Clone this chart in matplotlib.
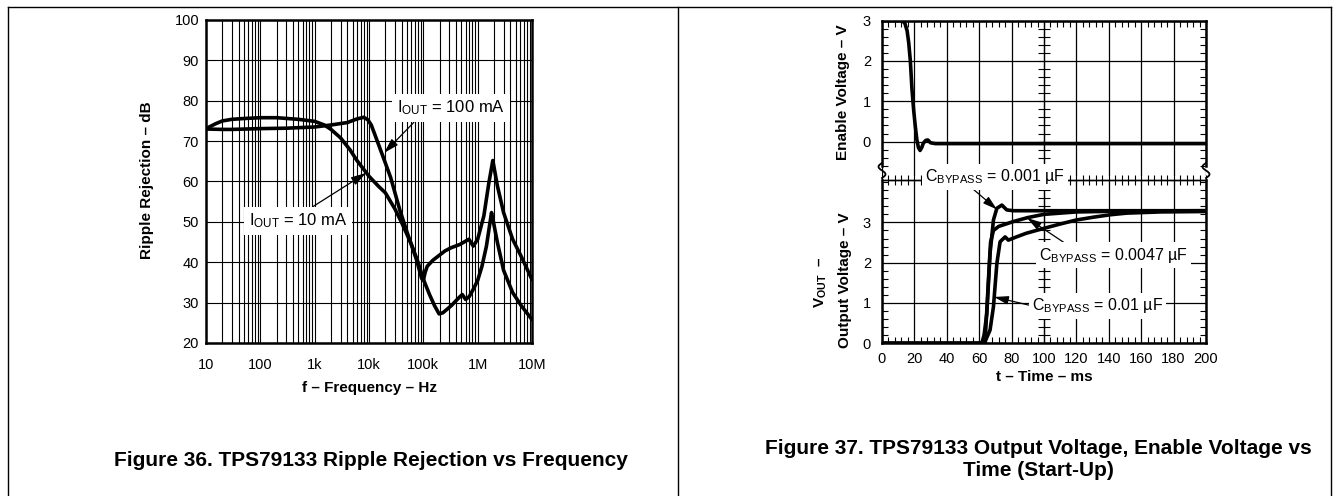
import matplotlib
matplotlib.use('Agg')
import matplotlib.pyplot as plt
from matplotlib.ticker import (LogLocator, MultipleLocator, FixedLocator,
                               NullFormatter, FixedFormatter, NullLocator)
from matplotlib.lines import Line2D
import numpy as np

W, H, DPI = 1338, 496, 100

plt.rcParams['font.family'] = ['Liberation Sans', 'DejaVu Sans']
plt.rcParams['mathtext.fontset'] = 'custom'
plt.rcParams['mathtext.rm'] = 'Liberation Sans'
plt.rcParams['mathtext.it'] = 'Liberation Sans:italic'
plt.rcParams['mathtext.bf'] = 'Liberation Sans:bold'

# ---------------- Figure 36 data: ripple rejection vs frequency ----------------
freq_ticks = [10, 100, 1e3, 1e4, 1e5, 1e6, 1e7]
freq_tick_labels = ['10', '100', '1k', '10k', '100k', '1M', '10M']

freq_10mA = [10, 15, 20, 30, 50, 100, 200, 500, 1000, 1500, 2000, 3000, 4500,
             6000, 8000, 10000, 15000, 20000, 30000, 40000, 60000, 80000,
             100000, 130000, 160000, 195000, 230000, 330000, 450000, 520000,
             600000, 700000, 830000, 1000000, 1200000, 1450000, 1650000,
             1800000, 1950000, 2300000, 3000000, 4400000, 6300000, 10000000]
rr_10mA = [73.1, 74.3, 75.0, 75.4, 75.6, 75.8, 75.8, 75.4, 74.9, 74.0, 72.9,
           70.8, 67.8, 65.2, 63.0, 61.3, 58.8, 57.2, 53.2, 49.8, 44.5, 40.0,
           35.8, 32.0, 29.3, 27.2, 27.5, 29.3, 31.2, 32.0, 30.8, 31.5, 33.3,
           35.5, 39.0, 44.0, 49.0, 52.3, 50.0, 45.0, 38.0, 32.5, 29.3, 25.8]

freq_100mA = [10, 20, 30, 100, 300, 1000, 2000, 4000, 6000, 8000, 9500, 11000,
              13000, 18300, 25000, 37000, 50000, 75000, 93000, 100000, 108000,
              118000, 150000, 187000, 250000, 325000, 470000, 690000, 830000,
              1000000, 1300000, 1600000, 1900000, 2100000, 2300000, 3000000,
              4400000, 6300000, 10000000]
rr_100mA = [73.0, 72.9, 72.9, 73.1, 73.2, 73.5, 74.0, 74.6, 75.5, 75.9, 75.3,
            74.0, 71.4, 66.0, 61.0, 52.9, 47.5, 40.6, 36.0, 35.5, 37.5, 39.0,
            40.5, 41.5, 42.8, 43.6, 44.4, 45.7, 44.0, 45.7, 51.5, 59.5, 65.2,
            62.0, 59.0, 52.3, 45.7, 41.5, 35.7]

# ---------------- Figure 37 data: start-up ----------------
time_ticks = [0, 20, 40, 60, 80, 100, 120, 140, 160, 180, 200]
enable_yticks = [0, 1, 2, 3]
vout_yticks = [0, 1, 2, 3]

t_enable = [0, 12, 14, 15.5, 16.5, 17.5, 18.5, 19.5, 20.5, 21.5, 22.5, 23.5,
            24.5, 25.5, 27, 28.3, 30, 33, 200]
v_enable = [3.0, 3.0, 2.95, 2.75, 2.45, 2.0, 1.3, 0.8, 0.4, 0.05, -0.15,
            -0.22, -0.15, -0.04, 0.03, 0.04, -0.03, -0.05, -0.05]

t_c001 = [0, 61.6, 63, 64.7, 66.7, 68.8, 70.9, 74, 77, 81, 100, 150, 200]
v_c001 = [0, 0, 0.2, 0.74, 2.23, 3.06, 3.35, 3.43, 3.31, 3.29, 3.29, 3.29, 3.29]

t_c0047 = [0, 62, 64, 65.7, 67, 68.8, 72, 81, 90, 100, 120, 150, 200]
v_c0047 = [0, 0, 0.3, 1.57, 2.5, 2.8, 2.9, 3.02, 3.12, 3.2, 3.26, 3.28, 3.29]

t_c01 = [0, 62, 63.6, 66.7, 68.8, 70.9, 72.9, 76, 78, 83, 89, 99.7, 110, 120,
         130.6, 141, 151, 172, 200]
v_c01 = [0, 0, 0.04, 0.33, 0.91, 1.98, 2.52, 2.64, 2.56, 2.64, 2.73, 2.85,
         2.96, 3.06, 3.13, 3.19, 3.23, 3.26, 3.27]

# ---------------- layout helpers (pixel -> figure fraction) ----------------
fig = plt.figure(figsize=(W / DPI, H / DPI), dpi=DPI)


def rect(x0, y0, x1, y1):
    return [x0 / W, 1 - y1 / H, (x1 - x0) / W, (y1 - y0) / H]


def fxy(x, y):
    return x / W, 1 - y / H


def fig_line(xs, ys, lw=1.0):
    fx = [x / W for x in xs]
    fy = [1 - y / H for y in ys]
    fig.add_artist(Line2D(fx, fy, transform=fig.transFigure, color='k', lw=lw))


LW_CURVE = 2.6
TICK_FS = 10.5
LABEL_FS = 11

# ================= Figure 36 =================
ax1 = fig.add_axes(rect(206, 20, 532, 343))
ax1.set_xscale('log')
ax1.set_xlim(10, 1e7)
ax1.set_ylim(20, 100)
ax1.set_axisbelow(True)
ax1.plot(freq_10mA, rr_10mA, color='k', lw=LW_CURVE, solid_joinstyle='round',
         solid_capstyle='round', zorder=3)
ax1.plot(freq_100mA, rr_100mA, color='k', lw=LW_CURVE, solid_joinstyle='round',
         solid_capstyle='round', zorder=3)
ax1.xaxis.set_major_locator(FixedLocator(freq_ticks))
ax1.xaxis.set_major_formatter(FixedFormatter(freq_tick_labels))
ax1.xaxis.set_minor_locator(LogLocator(base=10, subs=np.arange(2, 10), numticks=60))
ax1.xaxis.set_minor_formatter(NullFormatter())
ax1.yaxis.set_major_locator(MultipleLocator(10))
ax1.grid(which='both', color='k', lw=0.8)
ax1.tick_params(which='both', length=0)
ax1.tick_params(axis='x', pad=11, labelsize=TICK_FS)
ax1.tick_params(axis='y', pad=5, labelsize=TICK_FS)
for s in ax1.spines.values():
    s.set_linewidth(1.8)

box = dict(boxstyle='square,pad=0.3', fc='white', ec='none')
arrow = dict(arrowstyle='-|>,head_length=0.75,head_width=0.22', color='k',
             lw=0.9, shrinkA=0, shrinkB=0)
ax1.annotate(r'I$_{\mathrm{OUT}}$ = 100 mA', xy=(1.9e4, 67.1), xytext=(3.25e5, 78.2),
             ha='center', va='center', fontsize=12, bbox=box,
             arrowprops=dict(arrow, relpos=(0.2, 0.0)), zorder=6)
ax1.annotate(r'I$_{\mathrm{OUT}}$ = 10 mA', xy=(8.8e3, 62.1), xytext=(492, 50.2),
             ha='center', va='center', fontsize=12, bbox=box,
             arrowprops=dict(arrow, relpos=(0.57, 1.0)), zorder=6)

fig.text(*fxy(147, 180), 'Ripple Rejection – dB', rotation=90, ha='center',
         va='center', fontsize=LABEL_FS, fontweight='bold')
fig.text(*fxy(369, 388), 'f – Frequency – Hz', ha='center', va='center',
         fontsize=LABEL_FS, fontweight='bold')
fig.text(*fxy(371, 460), 'Figure 36. TPS79133 Ripple Rejection vs Frequency',
         ha='center', va='center', fontsize=15, fontweight='bold')

# ================= Figure 37 =================
PX_PER_V = 40.3
Y3_TOP = 20.7
TOP_BOTTOM_PX = 176
BOT_TOP_PX = 180
BOT_ZERO_PX = 343.3

ax2 = fig.add_axes(rect(882, Y3_TOP, 1206, TOP_BOTTOM_PX))
ax2.set_xlim(0, 200)
ax2.set_ylim(3 - (TOP_BOTTOM_PX - Y3_TOP) / PX_PER_V, 3)
ax3 = fig.add_axes(rect(882, BOT_TOP_PX, 1206, BOT_ZERO_PX))
ax3.set_xlim(0, 200)
ax3.set_ylim(0, (BOT_ZERO_PX - BOT_TOP_PX) / PX_PER_V)

for ax in (ax2, ax3):
    ax.set_axisbelow(True)
    ax.xaxis.set_major_locator(FixedLocator(time_ticks))
    ax.xaxis.set_minor_locator(MultipleLocator(4))
    ax.grid(which='major', color='k', lw=0.9)
    ax.tick_params(which='major', length=0, labelsize=TICK_FS)
    ax.tick_params(axis='y', which='minor', left=True, right=True,
                   direction='in', length=4, width=0.8)
    ax.tick_params(axis='y', which='major', pad=8)
    for s in ax.spines.values():
        s.set_linewidth(1.8)

# top panel
ax2.plot(t_enable, v_enable, color='k', lw=LW_CURVE, solid_joinstyle='round', zorder=3)
ax2.yaxis.set_major_locator(FixedLocator(enable_yticks))
ax2.yaxis.set_minor_locator(FixedLocator(list(np.arange(-0.6, 3.01, 0.2))))
ax2.spines['bottom'].set_visible(False)
ax2.spines['left'].set_bounds(-0.6, 3)
ax2.spines['right'].set_bounds(-0.6, 3)
ax2.tick_params(axis='x', which='both', bottom=False, labelbottom=False)
ax2.tick_params(axis='x', which='minor', top=True, direction='in', length=4, width=0.8)

# bottom panel
ax3.plot(t_c01, v_c01, color='k', lw=LW_CURVE, solid_joinstyle='round', zorder=3)
ax3.plot(t_c0047, v_c0047, color='k', lw=LW_CURVE, solid_joinstyle='round', zorder=3)
ax3.plot(t_c001, v_c001, color='k', lw=LW_CURVE, solid_joinstyle='round', zorder=3)
ax3.yaxis.set_major_locator(FixedLocator(vout_yticks))
ax3.yaxis.set_minor_locator(FixedLocator(list(np.arange(0.2, 4.01, 0.2))))
ax3.spines['top'].set_linewidth(1.0)
ax3.tick_params(axis='x', which='minor', bottom=True, top=False, direction='in',
                length=4, width=0.8)
ax3.tick_params(axis='x', which='major', pad=6)
secx = ax3.secondary_xaxis('top')
secx.xaxis.set_major_locator(NullLocator())
secx.xaxis.set_minor_locator(MultipleLocator(4))
secx.xaxis.set_minor_formatter(NullFormatter())
secx.tick_params(which='minor', direction='inout', length=7, width=0.8)
for s in secx.spines.values():
    s.set_linewidth(1.0)

# centre (100 ms) cross-ticks
for ax, mloc in ((ax2, np.arange(-0.6, 3.01, 0.2)), (ax3, np.arange(0.2, 4.01, 0.2))):
    sec = ax.secondary_yaxis(0.5)
    sec.yaxis.set_major_locator(NullLocator())
    sec.yaxis.set_minor_locator(FixedLocator(list(mloc)))
    sec.yaxis.set_minor_formatter(NullFormatter())
    sec.tick_params(which='minor', direction='inout', length=8, width=0.8)
    for s in sec.spines.values():
        s.set_linewidth(0.9)

# break squiggles
yy = np.linspace(0, 1, 30)
for x0 in (882, 1206):
    fig_line(x0 - 3.5 * np.sin(2 * np.pi * yy), 163 + 15 * yy, lw=1.3)

box2 = dict(boxstyle='square,pad=0.2', fc='white', ec='none')
arrow2 = dict(arrowstyle='-|>,head_length=0.75,head_width=0.22', color='k',
              lw=0.9, shrinkA=0, shrinkB=0)
ax3.annotate(r'C$_{\mathrm{BYPASS}}$ = 0.001 µF', xy=(71, 3.32), xytext=(69.8, 4.13),
             ha='center', va='center', fontsize=11.5, bbox=box2,
             arrowprops=dict(arrow2, relpos=(0.32, 0.0)), zorder=6,
             annotation_clip=False)
ax3.annotate(r'C$_{\mathrm{BYPASS}}$ = 0.0047 µF', xy=(89.6, 3.11), xytext=(142.7, 2.19),
             ha='center', va='center', fontsize=11.5, bbox=box2,
             arrowprops=dict(arrow2, relpos=(0.2, 1.0)), zorder=6)
ax3.annotate(r'C$_{\mathrm{BYPASS}}$ = 0.01 µF', xy=(69.2, 1.15), xytext=(133, 0.93),
             ha='center', va='center', fontsize=11.5, bbox=box2,
             arrowprops=dict(arrow2, relpos=(0.0, 0.5)), zorder=6)

fig.text(*fxy(843, 92), 'Enable Voltage – V', rotation=90, ha='center',
         va='center', fontsize=LABEL_FS, fontweight='bold')
fig.text(*fxy(845, 280), 'Output Voltage – V', rotation=90, ha='center',
         va='center', fontsize=LABEL_FS, fontweight='bold')
fig.text(*fxy(821, 282), r'V$_{\mathbf{OUT}}$  –', rotation=90, ha='center',
         va='center', fontsize=LABEL_FS, fontweight='bold')
fig.text(*fxy(1044, 377), 't – Time – ms', ha='center', va='center',
         fontsize=LABEL_FS, fontweight='bold')
fig.text(*fxy(1038, 448), 'Figure 37. TPS79133 Output Voltage, Enable Voltage vs',
         ha='center', va='center', fontsize=15, fontweight='bold')
fig.text(*fxy(1038, 471), 'Time (Start-Up)', ha='center', va='center',
         fontsize=15, fontweight='bold')

# panel borders
fig_line([8, 1331], [7, 7], lw=1.0)
for xb in (8, 678, 1331):
    fig_line([xb, xb], [7, 496], lw=1.0)

fig.savefig('out.png', dpi=DPI)
